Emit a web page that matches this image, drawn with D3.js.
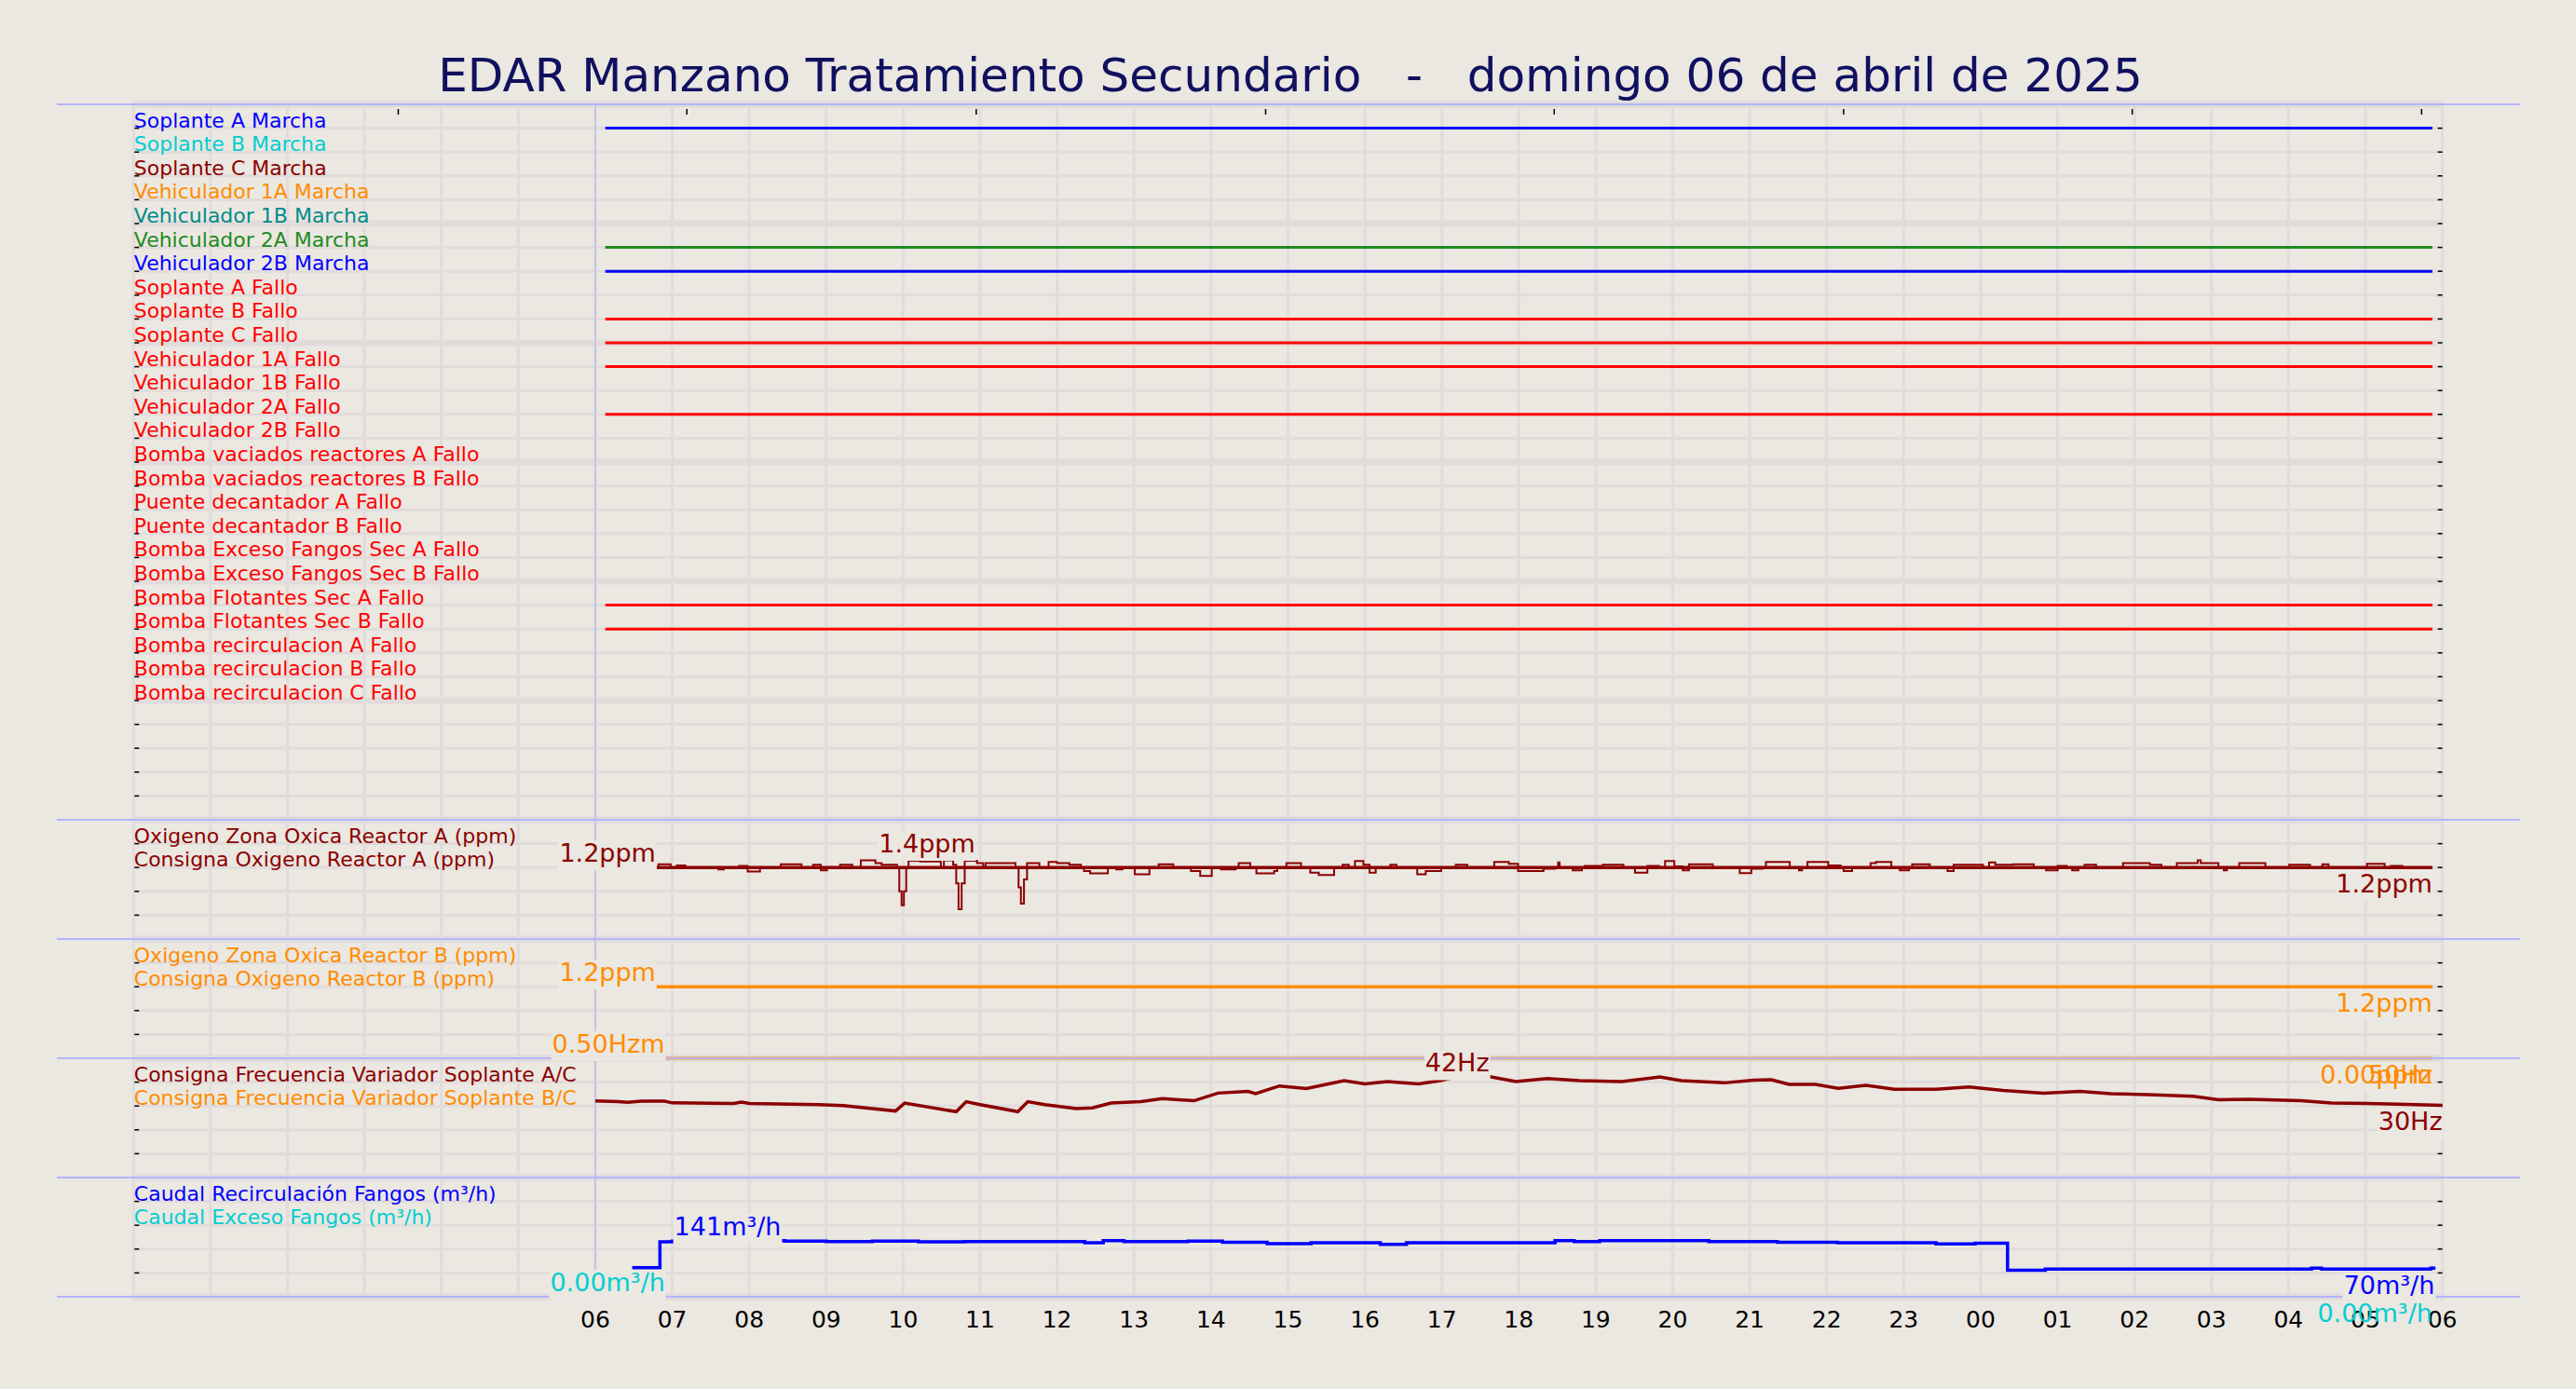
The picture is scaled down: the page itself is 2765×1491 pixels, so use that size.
<!DOCTYPE html>
<html><head><meta charset="utf-8">
<script src="https://cdn.jsdelivr.net/npm/d3@7"></script>
<style>
html,body{margin:0;padding:0;background:#ebe7e1;}
svg{display:block;font-family:"DejaVu Sans",sans-serif;}
</style></head><body>
<svg id="chart" width="2765" height="1491"></svg>
<script>
// ---------------- DATA ----------------
const TITLE = "EDAR Manzano Tratamiento Secundario   -   domingo 06 de abril de 2025";

const digitalLabels = [
  "Soplante A Marcha","Soplante B Marcha","Soplante C Marcha","Vehiculador 1A Marcha",
  "Vehiculador 1B Marcha","Vehiculador 2A Marcha","Vehiculador 2B Marcha",
  "Soplante A Fallo","Soplante B Fallo","Soplante C Fallo","Vehiculador 1A Fallo",
  "Vehiculador 1B Fallo","Vehiculador 2A Fallo","Vehiculador 2B Fallo",
  "Bomba vaciados reactores A Fallo","Bomba vaciados reactores B Fallo",
  "Puente decantador A Fallo","Puente decantador B Fallo",
  "Bomba Exceso Fangos Sec A Fallo","Bomba Exceso Fangos Sec B Fallo",
  "Bomba Flotantes Sec A Fallo","Bomba Flotantes Sec B Fallo",
  "Bomba recirculacion A Fallo","Bomba recirculacion B Fallo","Bomba recirculacion C Fallo"
];
const digitalColors = [
  "#0000ff","#00ced1","#8b0000","#ff8c00","#008b8b","#228b22","#0000ff",
  "#ff0000","#ff0000","#ff0000","#ff0000","#ff0000","#ff0000","#ff0000",
  "#ff0000","#ff0000","#ff0000","#ff0000","#ff0000","#ff0000","#ff0000","#ff0000",
  "#ff0000","#ff0000","#ff0000"
];
// active interval (hours since 00:00 of 06/04) for each signal, null = never active
const digitalActive = [
  [6.13,29.87],null,null,null,null,[6.13,29.87],[6.13,29.87],
  null,[6.13,29.87],[6.13,29.87],[6.13,29.87],null,[6.13,29.87],null,
  null,null,null,null,null,null,[6.13,29.87],[6.13,29.87],
  null,null,null
];

const analogLabels = [
  ["Oxigeno Zona Oxica Reactor A (ppm)","Consigna Oxigeno Reactor A (ppm)"],
  ["Oxigeno Zona Oxica Reactor B (ppm)","Consigna Oxigeno Reactor B (ppm)"],
  ["Consigna Frecuencia Variador Soplante A/C","Consigna Frecuencia Variador Soplante B/C"],
  ["Caudal Recirculación Fangos (m³/h)","Caudal Exceso Fangos (m³/h)"]
];
const analogLabelColors = [
  ["#8b0000","#8b0000"],["#ff8c00","#ff8c00"],["#8b0000","#ff8c00"],["#0000ff","#00ced1"]
];

// Oxygen reactor A measured (ppm), step series [hour, value]
const oxyA = [
[6.13,1.2],[6.82,1.28],[6.98,1.2],[7.06,1.25],[7.17,1.2],[7.6,1.15],[7.67,1.2],[7.87,1.24],[7.98,1.1],[8.14,1.2],
[8.41,1.28],[8.68,1.2],[8.83,1.27],[8.93,1.13],[9.01,1.2],[9.18,1.27],[9.34,1.2],[9.45,1.38],[9.64,1.31],[9.72,1.27],
[9.92,1.2],[9.95,0.6],[9.98,0.25],[10.01,0.6],[10.04,1.2],[10.07,1.37],[10.22,1.35],[10.49,1.2],[10.53,1.38],[10.65,1.27],
[10.69,0.8],[10.72,0.15],[10.76,0.8],[10.8,1.37],[10.96,1.31],[11.04,1.2],[11.07,1.31],[11.46,1.2],[11.5,0.7],[11.53,0.29],
[11.57,0.9],[11.61,1.31],[11.77,1.2],[11.89,1.34],[12.0,1.31],[12.16,1.27],[12.31,1.2],[12.35,1.11],[12.43,1.05],[12.66,1.2],
[12.77,1.15],[12.85,1.2],[13.01,1.03],[13.2,1.2],[13.32,1.28],[13.51,1.2],[13.74,1.11],[13.86,0.99],[14.01,1.2],[14.13,1.15],
[14.32,1.2],[14.36,1.31],[14.51,1.2],[14.59,1.05],[14.82,1.11],[14.86,1.2],[14.98,1.31],[15.17,1.2],[15.29,1.07],[15.4,1.01],
[15.6,1.2],[15.71,1.27],[15.79,1.2],[15.87,1.36],[15.98,1.27],[16.06,1.07],[16.14,1.2],[16.33,1.27],[16.41,1.2],[16.68,1.03],
[16.79,1.11],[16.99,1.2],[17.18,1.27],[17.33,1.2],[17.68,1.34],[17.87,1.29],[17.99,1.11],[18.32,1.17],[18.47,1.2],[18.51,1.33],
[18.53,1.2],[18.7,1.13],[18.82,1.2],[18.86,1.24],[19.09,1.27],[19.36,1.2],[19.51,1.07],[19.67,1.24],[19.82,1.2],[19.9,1.36],
[20.02,1.23],[20.13,1.13],[20.21,1.28],[20.52,1.2],[20.87,1.06],[21.02,1.17],[21.17,1.2],[21.21,1.34],[21.52,1.2],[21.64,1.13],
[21.68,1.2],[21.75,1.34],[22.02,1.25],[22.18,1.2],[22.22,1.11],[22.33,1.2],[22.57,1.31],[22.64,1.34],[22.84,1.2],[22.95,1.13],
[23.07,1.2],[23.11,1.28],[23.34,1.2],[23.57,1.11],[23.65,1.27],[24.03,1.2],[24.11,1.33],[24.19,1.27],[24.42,1.28],[24.69,1.2],
[24.85,1.13],[25.0,1.24],[25.12,1.2],[25.19,1.13],[25.27,1.2],[25.35,1.27],[25.5,1.2],[25.85,1.31],[26.2,1.27],[26.35,1.2],
[26.55,1.31],[26.82,1.38],[26.86,1.31],[27.09,1.2],[27.16,1.13],[27.2,1.2],[27.36,1.31],[27.7,1.2],[28.01,1.27],[28.28,1.2],
[28.44,1.28],[28.52,1.2],[29.02,1.29],[29.25,1.2],[29.33,1.24],[29.48,1.2],[29.52,1.2]
];
const oxyASetpoint = [[6.13,1.2],[29.87,1.2]];
const oxyBSetpoint = [[6.13,1.2],[29.87,1.2]];

// Blower frequency A/C (Hz)
const freqAC = [
[6.0,32.1],[6.3,31.8],[6.42,31.5],[6.6,32.0],[6.9,32.0],[7.0,31.3],[7.8,31.1],[7.9,31.6],[8.0,31.1],[8.9,30.6],
[9.22,30.2],[9.9,27.9],[10.02,31.2],[10.69,27.6],[10.82,31.8],[11.0,30.6],[11.49,27.6],[11.62,31.8],[11.84,30.6],[12.25,28.9],
[12.46,29.2],[12.7,31.25],[13.09,31.8],[13.37,33.1],[13.78,32.2],[14.09,35.4],[14.48,36.1],[14.58,35.2],[14.89,38.4],[15.24,37.3],
[15.73,40.6],[16.0,39.3],[16.29,40.2],[16.7,39.3],[16.98,40.6],[17.2,42.3],[17.64,42.2],[17.96,40.2],[18.37,41.5],[18.79,40.6],
[19.34,40.2],[19.83,42.2],[20.11,40.6],[20.67,39.7],[21.05,40.8],[21.28,41.0],[21.51,39.1],[21.85,39.1],[22.15,37.4],[22.51,38.7],
[22.88,37.0],[23.42,37.0],[23.85,38.0],[24.29,36.5],[24.82,35.4],[25.29,36.1],[25.69,35.2],[26.16,34.8],[26.76,34.1],[27.09,32.6],
[27.49,32.8],[28.16,32.2],[28.56,31.25],[29.3,30.9],[30.0,30.3]
];
const freqBC = [[6.13,50],[29.87,50]];

// Sludge recirculation flow (m3/h), step series
const flowRecirc = [
[6.48,73],[6.84,138],[7.0,140],[7.5,141],[8.46,140],[9.0,139],[9.6,140],[10.2,138],[10.8,139],[12.36,136],
[12.6,141],[12.87,139],[13.7,140],[14.15,137],[14.73,133.6],[15.3,136],[16.2,132],[16.54,136],[18.47,141],[18.72,139],
[19.05,141],[20.47,139],[21.36,137],[22.14,136],[23.42,133],[23.93,134.5],[24.35,67],[24.84,70],[28.3,72],[28.43,70],
[29.85,72],[29.91,72]
];
const flowExcess = [[6.13,0],[29.87,0]];

// value annotations
const annotations = [
  {text:"1.2ppm",  panel:1, hour:6.16,  value:1.2,  kind:"start", color:"#8b0000"},
  {text:"1.4ppm",  panel:1, hour:10.31, value:1.44, kind:"max",   color:"#8b0000"},
  {text:"1.2ppm",  panel:1, hour:29.87, value:1.2,  kind:"end",   color:"#8b0000"},
  {text:"1.2ppm",  panel:2, hour:6.16,  value:1.2,  kind:"start", color:"#ff8c00"},
  {text:"1.2ppm",  panel:2, hour:29.87, value:1.2,  kind:"end",   color:"#ff8c00"},
  {text:"0.50Hzm", panel:3, hour:6.17,  value:50,   kind:"start", color:"#ff8c00"},
  {text:"0.00ppm", panel:3, hour:29.87, value:50,   kind:"end",   color:"#ff8c00"},
  {text:"50Hz",    panel:3, hour:29.87, value:50,   kind:"end",   color:"#ff8c00"},
  {text:"42Hz",    panel:3, hour:17.2,  value:42,   kind:"max",   color:"#8b0000"},
  {text:"30Hz",    panel:3, hour:30.0,  value:30.3, kind:"end",   color:"#8b0000"},
  {text:"0.00m³/h",panel:4, hour:6.16,  value:0,    kind:"start", color:"#00ced1"},
  {text:"141m³/h", panel:4, hour:7.72,  value:141,  kind:"max",   color:"#0000ff"},
  {text:"70m³/h",  panel:4, hour:29.9,  value:70,   kind:"end",   color:"#0000ff"},
  {text:"0.00m³/h",panel:4, hour:29.87, value:0,    kind:"end",   color:"#00ced1"}
];

const hourTicks = d3.range(6, 31);
const tickLabels = hourTicks.map(h => String(h % 24).padStart(2, "0"));
const topTickHours = [3.44, 7.19, 10.95, 14.71, 18.46, 22.22, 25.97, 29.73];

// ---------------- LAYOUT ----------------
const BG = "#ebe7e1", GRID = "#e1dcdb", SEP = "#b4b4ff";
const svg = d3.select("#chart");
svg.append("rect").attr("width",2765).attr("height",1491).attr("fill",BG);

const x = d3.scaleLinear().domain([0,30]).range([143.3, 2621.6]);
const units = d3.scaleLinear().domain([0,50]).range([112,1392]);
const panels = [
  {rows:30, start:0,  domain:[0,30]},
  {rows:5,  start:30, domain:[-0.6,2.4]},
  {rows:5,  start:35, domain:[-0.6,2.4]},
  {rows:5,  start:40, domain:[0,50]},
  {rows:5,  start:45, domain:[0,300]}
];
panels.forEach(p => {
  p.top = units(p.start); p.bottom = units(p.start + p.rows);
  p.row = d3.scaleLinear().domain([0,p.rows]).range([p.bottom,p.top]);
  p.y = d3.scaleLinear().domain(p.domain).range([p.bottom,p.top]);
});

// title
svg.append("text").attr("x",1385).attr("y",98).attr("text-anchor","middle")
  .attr("font-size",50).attr("fill","#10105f").style("white-space","pre").text(TITLE);

// grid
const gGrid = svg.append("g");
d3.range(0,31).forEach(h => {
  gGrid.append("line").attr("x1",x(h)).attr("x2",x(h)).attr("y1",units(0)).attr("y2",units(50))
    .attr("stroke",GRID).attr("stroke-width",3);
});
panels.forEach(p => {
  d3.range(0,p.rows+1).forEach(v => {
    gGrid.append("line").attr("x1",x(0)-1.5).attr("x2",x(30)+1.5)
      .attr("y1",p.row(v)).attr("y2",p.row(v))
      .attr("stroke",GRID).attr("stroke-width", v % 5 === 0 ? 7 : 3);
  });
});
// 06:00 marker line
svg.append("line").attr("x1",x(6)).attr("x2",x(6)).attr("y1",units(0)).attr("y2",units(50))
  .attr("stroke","#bdbdec").attr("stroke-width",1.5);

// ticks
const gTicks = svg.append("g").attr("stroke","#000").attr("stroke-width",1.5);
panels.forEach(p => {
  d3.range(1,p.rows).forEach(v => {
    gTicks.append("line").attr("x1",x(0)+1).attr("x2",x(0)+6).attr("y1",p.row(v)).attr("y2",p.row(v));
    gTicks.append("line").attr("x1",x(30)-5).attr("x2",x(30)).attr("y1",p.row(v)).attr("y2",p.row(v));
  });
});
topTickHours.forEach(h => {
  gTicks.append("line").attr("x1",x(h)).attr("x2",x(h)).attr("y1",117).attr("y2",123);
});

// ---------------- DATA LINES ----------------
const gData = svg.append("g").attr("fill","none");
const P = panels;
digitalActive.forEach((iv,k) => {
  if (!iv) return;
  const val = 29 - k;
  gData.append("path").datum(iv.map(h => [h,val]))
    .attr("d", d3.line().x(d=>x(d[0])).y(d=>P[0].y(d[1])))
    .attr("stroke", digitalColors[k]).attr("stroke-width",3);
});
function drawSeries(data, p, color, width, curve) {
  gData.append("path").datum(data)
    .attr("d", d3.line().curve(curve || d3.curveLinear).x(d=>x(d[0])).y(d=>p.y(d[1])))
    .attr("stroke", color).attr("stroke-width", width).attr("stroke-linejoin","miter");
}
drawSeries(oxyASetpoint, P[1], "#8b0000", 3.5);
drawSeries(oxyA, P[1], "#8b0000", 2, d3.curveStepAfter);
drawSeries(oxyBSetpoint, P[2], "#ff8c00", 3.5);
drawSeries(freqBC, P[3], "#ff8c00", 3);
drawSeries(freqAC, P[3], "#8b0000", 3.5);
drawSeries(flowExcess, P[4], "#00ced1", 2);
drawSeries(flowRecirc, P[4], "#0000ff", 3.5, d3.curveStepAfter);

// separators
const sepUnits = [0,30,35,40,45,50];
sepUnits.forEach(u => {
  svg.append("line").attr("x1",61).attr("x2",2705).attr("y1",units(u)).attr("y2",units(u))
    .attr("stroke",SEP).attr("stroke-width",2);
});

// ---------------- LABELS ----------------
const gBoxes = svg.append("g");
const gTickLabels = svg.append("g");
const gAnn = svg.append("g").attr("font-size",27);

hourTicks.forEach((h,i) => {
  gTickLabels.append("text").attr("x",x(h)).attr("y",1425).attr("text-anchor","middle")
    .attr("font-size",25).attr("fill","#000").text(tickLabels[i]);
});

annotations.forEach(a => {
  const p = P[a.panel];
  const yv = p.y(a.value);
  let base, anchor;
  if (a.kind === "start") { base = yv - 6; anchor = "middle"; }
  else if (a.kind === "end") { base = yv + 27; anchor = "end"; }
  else { base = yv - 6; anchor = "middle"; }
  const t = gAnn.append("text").attr("x",x(a.hour)).attr("y",base)
    .attr("text-anchor",anchor).attr("fill",a.color).text(a.text);
  const bb = t.node().getBBox();
  gBoxes.append("rect").attr("x",bb.x-1).attr("y",base-23).attr("width",bb.width+2).attr("height",32)
    .attr("fill",BG);
});

// series labels
const gLab = svg.append("g").attr("font-size",22);
digitalLabels.forEach((t,k) => {
  gLab.append("text").attr("x",x(0)+0.5).attr("y",P[0].y(29-k)-1)
    .attr("fill",digitalColors[k]).text(t);
});
analogLabels.forEach((pair,i) => {
  const p = P[i+1];
  pair.forEach((t,j) => {
    gLab.append("text").attr("x",x(0)+0.5).attr("y",p.row(4-j)-1)
      .attr("fill",analogLabelColors[i][j]).text(t);
  });
});
</script>
</body></html>
